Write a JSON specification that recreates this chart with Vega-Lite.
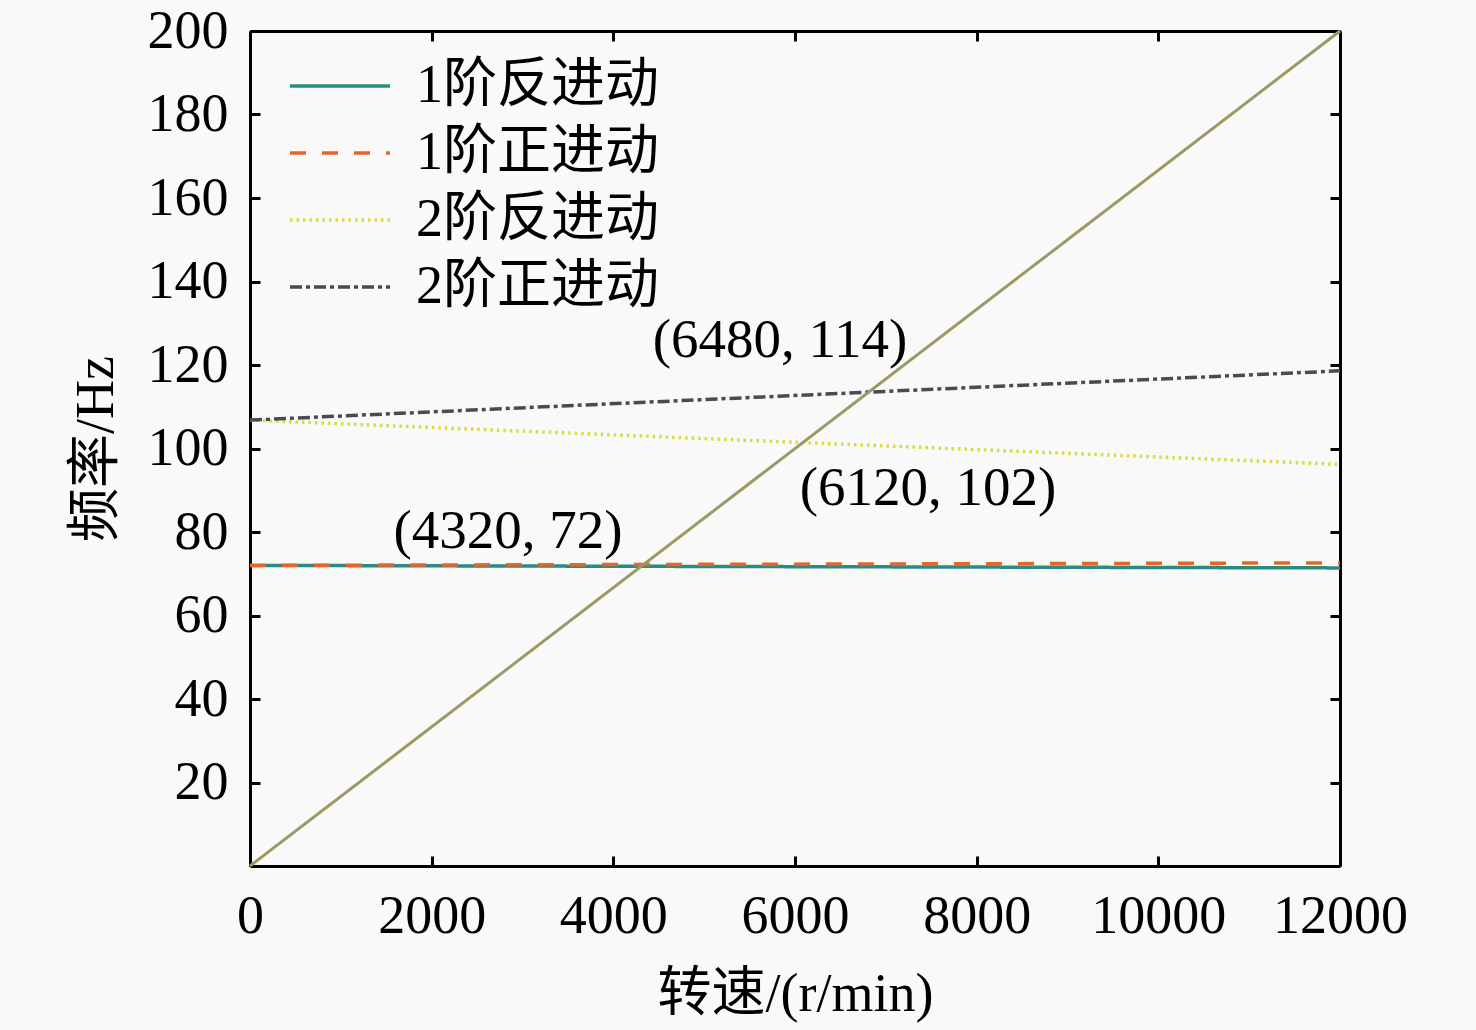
{
  "$schema": "https://vega.github.io/schema/vega-lite/v6.json",
  "width": 1090,
  "height": 835,
  "autosize": {"type": "none"},
  "padding": {"left": 250, "top": 31, "right": 136, "bottom": 164},
  "background": "#f9f9f9",
  "config": {
    "view": {"stroke": null},
    "font": "Liberation Serif, Noto Sans CJK SC",
    "axis": {
      "grid": false,
      "domainColor": "black",
      "domainWidth": 3,
      "tickColor": "black",
      "tickWidth": 3,
      "tickSize": -10,
      "labelFont": "Liberation Serif",
      "labelFontSize": 54,
      "labelColor": "black",
      "labelOverlap": false,
      "labelFlush": false,
      "titleFont": "Liberation Serif, Noto Sans CJK SC",
      "titleFontSize": 54,
      "titleFontWeight": "normal",
      "titleColor": "black"
    },
    "legend": {
      "labelFont": "Liberation Serif, Noto Sans CJK SC",
      "labelFontSize": 54,
      "labelColor": "black",
      "labelLimit": 0
    }
  },
  "resolve": {"axis": {"x": "independent", "y": "independent"}},
  "layer": [
    {
      "data": {
        "values": [
          {"speed": 0, "freq": 72.0, "mode": "1阶反进动"},
          {"speed": 12000, "freq": 71.4, "mode": "1阶反进动"},
          {"speed": 0, "freq": 72.0, "mode": "1阶正进动"},
          {"speed": 12000, "freq": 72.6, "mode": "1阶正进动"},
          {"speed": 0, "freq": 106.8, "mode": "2阶反进动"},
          {"speed": 12000, "freq": 96.2, "mode": "2阶反进动"},
          {"speed": 0, "freq": 106.8, "mode": "2阶正进动"},
          {"speed": 12000, "freq": 118.6, "mode": "2阶正进动"}
        ]
      },
      "mark": {"type": "line", "strokeWidth": 3.5},
      "encoding": {
        "x": {
          "field": "speed",
          "type": "quantitative",
          "scale": {"domain": [0, 12000], "nice": false},
          "axis": {
            "orient": "bottom",
            "values": [0, 2000, 4000, 6000, 8000, 10000, 12000],
            "format": "d",
            "labelPadding": 33,
            "titlePadding": 24
          },
          "title": "转速/(r/min)"
        },
        "y": {
          "field": "freq",
          "type": "quantitative",
          "scale": {"domain": [0, 200], "nice": false},
          "axis": {
            "orient": "left",
            "values": [20, 40, 60, 80, 100, 120, 140, 160, 180, 200],
            "labelPadding": 32,
            "titlePadding": 24
          },
          "title": "频率/Hz"
        },
        "color": {
          "field": "mode",
          "type": "nominal",
          "scale": {
            "domain": ["1阶反进动", "1阶正进动", "2阶反进动", "2阶正进动"],
            "range": ["#2a8c80", "#e4662c", "#d9dc3a", "#4a4a55"]
          },
          "legend": {
            "title": null,
            "orient": "none",
            "legendX": 63,
            "legendY": 28,
            "padding": 0,
            "symbolType": "M-5,0H5",
            "symbolSize": 400,
            "symbolStrokeWidth": 3.5,
            "labelOffset": 49,
            "rowPadding": 13
          }
        },
        "strokeDash": {
          "field": "mode",
          "type": "nominal",
          "scale": {
            "domain": ["1阶反进动", "1阶正进动", "2阶反进动", "2阶正进动"],
            "range": [[1, 0], [16, 16], [2.5, 4], [12, 4, 4, 4]]
          },
          "legend": null
        }
      }
    },
    {
      "data": {
        "values": [
          {"speed": 0, "freq": 0},
          {"speed": 12000, "freq": 200}
        ]
      },
      "mark": {"type": "line", "strokeWidth": 3, "color": "#9c9a62"},
      "encoding": {
        "x": {
          "field": "speed",
          "type": "quantitative",
          "axis": {
            "orient": "top",
            "values": [0, 2000, 4000, 6000, 8000, 10000, 12000],
            "labels": false,
            "title": null
          }
        },
        "y": {
          "field": "freq",
          "type": "quantitative",
          "axis": {
            "orient": "right",
            "values": [20, 40, 60, 80, 100, 120, 140, 160, 180, 200],
            "labels": false,
            "title": null
          }
        }
      }
    },
    {
      "data": {
        "values": [
          {"speed": 2840, "freq": 80.2, "label": "(4320, 72)"},
          {"speed": 5835, "freq": 126.0, "label": "(6480, 114)"},
          {"speed": 7464, "freq": 90.5, "label": "(6120, 102)"}
        ]
      },
      "mark": {
        "type": "text",
        "font": "Liberation Serif",
        "fontSize": 55,
        "color": "black",
        "baseline": "middle",
        "align": "center"
      },
      "encoding": {
        "x": {"field": "speed", "type": "quantitative", "axis": null},
        "y": {"field": "freq", "type": "quantitative", "axis": null},
        "text": {"field": "label"}
      }
    }
  ]
}
